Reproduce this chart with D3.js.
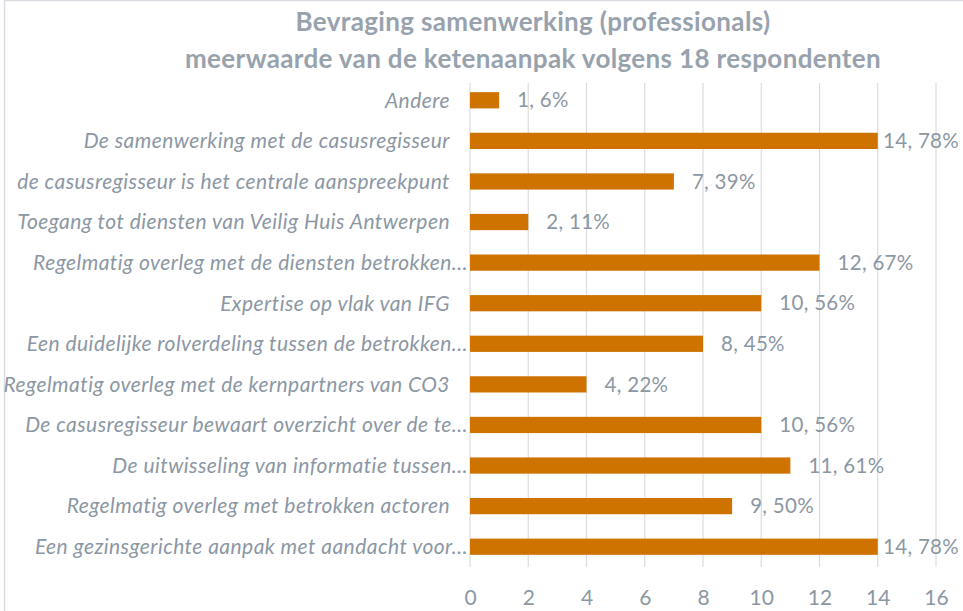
<!DOCTYPE html>
<html><head><meta charset="utf-8">
<script src="https://cdn.jsdelivr.net/npm/d3@7"></script>
<style>
html,body{margin:0;padding:0;background:#fff;}
svg{display:block;font-family:Lato, "Open Sans", sans-serif;}
</style></head>
<body>
<svg id="chart" width="963" height="611"></svg>
<script>
const titleLines = ["Bevraging samenwerking (professionals)", "meerwaarde van de ketenaanpak volgens 18 respondenten"];
const categories = [
  "Andere",
  "De samenwerking met de casusregisseur",
  "de casusregisseur is het centrale aanspreekpunt",
  "Toegang tot diensten van Veilig Huis Antwerpen",
  "Regelmatig overleg met de diensten betrokken…",
  "Expertise op vlak van IFG",
  "Een duidelijke rolverdeling tussen de betrokken…",
  "Regelmatig overleg met de kernpartners van CO3",
  "De casusregisseur bewaart overzicht over de te…",
  "De uitwisseling van informatie tussen…",
  "Regelmatig overleg met betrokken actoren",
  "Een gezinsgerichte aanpak met aandacht voor…"
];
const counts = [1, 14, 7, 2, 12, 10, 8, 4, 10, 11, 9, 14];
const percents = ["6%", "78%", "39%", "11%", "67%", "56%", "45%", "22%", "56%", "61%", "50%", "78%"];
const xTicks = [0, 2, 4, 6, 8, 10, 12, 14, 16];

(function () {
const svg = d3.select("#chart");
const textCol = "#8C97A4";

// border
svg.append("rect").attr("x", 4.5).attr("y", 0.5).attr("width", 970).attr("height", 620)
  .attr("fill", "#fff").attr("stroke", "#D9DDE1").attr("stroke-width", 1.5);

const pLeft = 470, pRight = 936, pTop = 80, pBottom = 567;
const x = d3.scaleLinear().domain([0, 16]).range([pLeft, pRight]);
const y = d3.scaleBand().domain(categories).range([pTop, pBottom]).paddingInner(0.6).paddingOuter(0.3);

// title
svg.append("g").selectAll("text").data(titleLines).join("text")
  .attr("x", 533).attr("y", (d, i) => 31 + i * 37)
  .attr("text-anchor", "middle").attr("font-size", 26).attr("font-weight", "bold")
  .attr("letter-spacing", 0.35)
  .attr("fill", "#98A2AD").text(d => d);

// gridlines
svg.append("g").selectAll("line").data(xTicks).join("line")
  .attr("x1", d => x(d)).attr("x2", d => x(d))
  .attr("y1", 83).attr("y2", pBottom)
  .attr("stroke", "#DCDCDC").attr("stroke-width", 1.2);

// x axis labels
const xAxis = d3.axisBottom(x).tickValues(xTicks).tickSize(0).tickPadding(0);
const gx = svg.append("g").attr("transform", `translate(0,590)`).call(xAxis);
gx.select(".domain").remove();
gx.selectAll("text").attr("font-size", 21).attr("fill", textCol).attr("font-family", "Lato, sans-serif");

// bars
svg.append("g").selectAll("rect").data(categories).join("rect")
  .attr("x", x(0)).attr("y", d => y(d))
  .attr("width", (d, i) => x(counts[i]) - x(0))
  .attr("height", y.bandwidth())
  .attr("fill", "#CE7200");

// category labels
svg.append("g").selectAll("text").data(categories).join("text")
  .attr("x", d => d.endsWith("…") ? x(0) - 2 : x(0) - 20)
  .attr("y", d => y(d) + y.bandwidth() / 2)
  .attr("dy", "0.35em")
  .attr("text-anchor", "end").attr("font-size", 21).attr("font-style", "italic")
  .attr("letter-spacing", 0.45)
  .attr("fill", textCol).text(d => d);

// value labels
const vl = svg.append("g").selectAll("text").data(categories).join("text")
  .attr("y", d => y(d) + y.bandwidth() / 2)
  .attr("dy", "0.35em")
  .attr("font-size", 20.5).attr("letter-spacing", 0.3).attr("fill", textCol)
  .text((d, i) => counts[i] + ", " + percents[i]);
vl.each(function (d, i) {
  const w = this.getComputedTextLength();
  const xp = Math.min(x(counts[i]) + 18, 959 - w);
  d3.select(this).attr("x", Math.max(xp, x(counts[i]) + 3));
});
})();
</script>
</body></html>
